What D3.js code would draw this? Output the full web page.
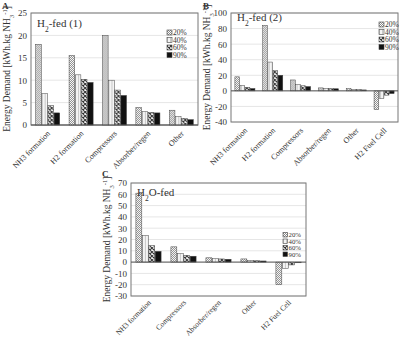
<!DOCTYPE html>
<html>
<head>
<meta charset="utf-8">
<script src="https://cdn.jsdelivr.net/npm/d3@7"></script>
<style>
  body { margin: 0; background: #fff; }
  svg { display: block; }
  text { font-family: "Liberation Serif", "DejaVu Serif", serif; fill: #333; }
</style>
</head>
<body>
<script>
// series labels
const pctLabels = ["20%", "40%", "60%", "90%"];

// panel A : H2-fed (1)
const catsA = ["NH3 formation", "H2 formation", "Compressors", "Absorber/regen", "Other"];
const a20 = [18, 15.5, 20, 3.9, 3.3];
const a40 = [7, 11.2, 10, 3.0, 1.9];
const a60 = [4.3, 10.2, 7.8, 2.8, 1.5];
const a90 = [2.7, 9.5, 6.6, 2.7, 1.2];
const ticksA = [0, 5, 10, 15, 20, 25];

// panel B : H2-fed (2)
const catsB = ["NH3 formation", "H2 formation", "Compressors", "Absorber/regen", "Other", "H2 Fuel Cell"];
const b20 = [18, 84, 14, 3.8, 2.8, -24];
const b40 = [7, 37, 8, 3.3, 1.6, -10];
const b60 = [4.5, 26, 6.5, 2.8, 1.5, -5.5];
const b90 = [3, 20, 5.5, 2.7, 1.2, -3.5];
const ticksB = [-40, -20, 0, 20, 40, 60, 80, 100];

// panel C : H2O-fed
const catsC = ["NH3 formation", "Compressors", "Absorber/regen", "Other", "H2 Fuel Cell"];
const c20 = [61, 13.5, 3.8, 2.8, -20];
const c40 = [23.5, 7.5, 3.0, 1.5, -5.5];
const c60 = [14.5, 6, 2.8, 1.2, -2.5];
const c90 = [9.5, 5.2, 2.5, 1.0, -0.6];
const ticksC = [-30, -20, -10, 0, 10, 20, 30, 40, 50, 60, 70];

const W = 400, H = 339;
const svg = d3.select("body").append("svg").attr("width", W).attr("height", H);

// fill patterns
const defs = svg.append("defs");
const p20 = defs.append("pattern").attr("id", "p20").attr("patternUnits", "userSpaceOnUse")
  .attr("width", 2).attr("height", 2);
p20.append("rect").attr("width", 2).attr("height", 2).attr("fill", "#fff");
p20.append("rect").attr("width", 1).attr("height", 1).attr("fill", "#8a8a8a");
p20.append("rect").attr("x", 1).attr("y", 1).attr("width", 1).attr("height", 1).attr("fill", "#8a8a8a");

const p40 = defs.append("pattern").attr("id", "p40").attr("patternUnits", "userSpaceOnUse")
  .attr("width", 3).attr("height", 3);
p40.append("rect").attr("width", 3).attr("height", 3).attr("fill", "#f4f4f4");
p40.append("rect").attr("width", 1).attr("height", 3).attr("fill", "#c8c8c8");

const p60 = defs.append("pattern").attr("id", "p60").attr("patternUnits", "userSpaceOnUse")
  .attr("width", 4).attr("height", 4);
p60.append("rect").attr("width", 4).attr("height", 4).attr("fill", "#fff");
p60.append("path").attr("d", "M0,0L4,4M0,4L4,0").attr("stroke", "#333").attr("stroke-width", 1.1);

const fills = ["url(#p20)", "url(#p40)", "url(#p60)", "#111"];

function drawPanel(cfg) {
  const g = svg.append("g");
  const series = cfg.series;
  const rows = cfg.cats.map((c, i) => ({ cat: c, vals: series.map(s => s[i]) }));

  const x = d3.scaleBand().domain(cfg.cats).range([cfg.left, cfg.right])
    .paddingInner(0.28).paddingOuter(0.14);
  const xs = d3.scaleBand().domain(d3.range(4)).range([0, x.bandwidth()]).paddingInner(0.08);
  const y = d3.scaleLinear().domain(cfg.domain).range([cfg.bottom, cfg.top]);

  // gridlines
  g.append("g").selectAll("line").data(cfg.ticks).join("line")
    .attr("x1", cfg.left).attr("x2", cfg.right)
    .attr("y1", d => y(d)).attr("y2", d => y(d))
    .attr("stroke", "#e6e6e6").attr("stroke-width", 1);

  // frame
  g.append("rect").attr("x", cfg.left).attr("y", cfg.top)
    .attr("width", cfg.right - cfg.left).attr("height", cfg.bottom - cfg.top)
    .attr("fill", "none").attr("stroke", "#777").attr("stroke-width", 1);

  // bars
  const grp = g.append("g").selectAll("g").data(rows).join("g")
    .attr("transform", d => `translate(${x(d.cat)},0)`);
  grp.selectAll("rect").data(d => d.vals).join("rect")
    .attr("x", (d, i) => xs(i))
    .attr("width", xs.bandwidth())
    .attr("y", d => y(Math.max(0, d)))
    .attr("height", d => Math.abs(y(d) - y(0)))
    .attr("fill", (d, i) => fills[i])
    .attr("stroke", "#444").attr("stroke-width", 0.5);

  // zero line
  g.append("line").attr("x1", cfg.left).attr("x2", cfg.right)
    .attr("y1", y(0)).attr("y2", y(0)).attr("stroke", "#555").attr("stroke-width", 1);

  // y axis
  const yAxis = g.append("g").attr("transform", `translate(${cfg.left},0)`)
    .call(d3.axisLeft(y).tickValues(cfg.ticks).tickSize(0).tickPadding(4).tickFormat(d => String(d)));
  yAxis.select(".domain").remove();
  yAxis.selectAll("text").attr("font-size", 9).attr("font-family", "Liberation Serif").attr("fill", "#333");

  // x category labels, rotated
  g.append("g").selectAll("text").data(cfg.cats).join("text")
    .attr("x", 0).attr("y", 0)
    .attr("transform", d => "translate(" + (x(d) + x.bandwidth() / 2 + 3) + "," + (y(cfg.domain[0]) + cfg.labOff) + ") rotate(-45)")
    .attr("text-anchor", "end").attr("font-size", cfg.labFont)
    .text(d => d);

  // y axis title
  const yt = g.append("text")
    .attr("transform", `translate(${cfg.left - 21},${(cfg.top + cfg.bottom) / 2}) rotate(-90)`)
    .attr("text-anchor", "middle").attr("font-size", 9.5);
  yt.append("tspan").text("Energy Demand [kWh.kg NH");
  yt.append("tspan").attr("baseline-shift", "sub").attr("font-size", 6.5).text("3");
  yt.append("tspan").attr("baseline-shift", "super").attr("font-size", 6.5).text("-1");
  yt.append("tspan").text("]");

  // panel title
  const tt = g.append("text").attr("x", cfg.left + 6).attr("y", cfg.titleY).attr("font-size", 11);
  tt.append("tspan").text("H");
  tt.append("tspan").attr("baseline-shift", "sub").attr("font-size", 7.5).text("2");
  tt.append("tspan").text(cfg.title);

  // panel letter
  g.append("text").attr("x", cfg.letterX).attr("y", cfg.letterY)
    .attr("font-family", "Liberation Sans").attr("font-weight", "bold").attr("font-size", 9)
    .attr("fill", "#222").text(cfg.letter);

  // legend
  const lg = g.append("g").selectAll("g").data(pctLabels).join("g")
    .attr("transform", (d, i) => `translate(${cfg.legX},${cfg.legY + i * cfg.legStep})`);
  lg.append("rect").attr("x", 0).attr("y", -cfg.legBox).attr("width", cfg.legBox).attr("height", cfg.legBox)
    .attr("fill", (d, i) => fills[i]).attr("stroke", "#444").attr("stroke-width", 0.6);
  lg.append("text").attr("x", cfg.legBox + 1).attr("y", 0).attr("font-size", cfg.legFont).text(d => d);
}

drawPanel({
  letter: "A", letterX: 2, letterY: 9,
  cats: catsA, series: [a20, a40, a60, a90], ticks: ticksA, domain: [0, 25],
  left: 31, right: 198, top: 13, bottom: 125,
  title: "-fed (1)", titleY: 27, labOff: 9, labFont: 8,
  legX: 167, legY: 35, legStep: 7.5, legFont: 7.5, legBox: 5
});

drawPanel({
  letter: "B", letterX: 203, letterY: 9,
  cats: catsB, series: [b20, b40, b60, b90], ticks: ticksB, domain: [-40, 100],
  left: 231, right: 398, top: 13, bottom: 122,
  title: "-fed (2)", titleY: 21, labOff: 9, labFont: 8,
  legX: 379, legY: 27, legStep: 7.5, legFont: 7.5, legBox: 5
});

drawPanel({
  letter: "C", letterX: 102, letterY: 177,
  cats: catsC, series: [c20, c40, c60, c90], ticks: ticksC, domain: [-30, 70],
  left: 131, right: 306, top: 183, bottom: 296,
  title: "O-fed", titleY: 196, labOff: 7, labFont: 7.5,
  legX: 283, legY: 237, legStep: 6.5, legFont: 6.8, legBox: 4.5
});
</script>
</body>
</html>
